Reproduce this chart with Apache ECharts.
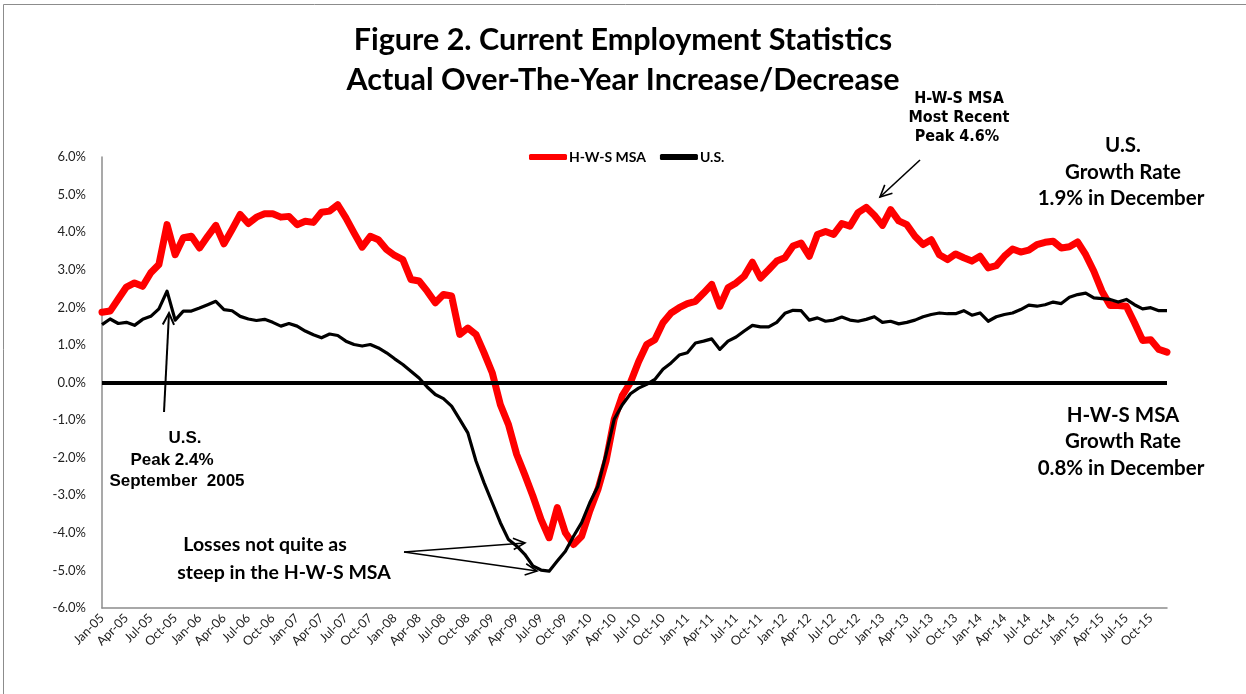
<!DOCTYPE html>
<html>
<head>
<meta charset="utf-8">
<script src="https://cdn.jsdelivr.net/npm/echarts@6/dist/echarts.min.js"></script>
<style>
  html, body { margin: 0; padding: 0; background: #fff; }
  #chart { width: 1246px; height: 694px; }
</style>
</head>
<body>
<div id="chart"></div>
<script>
const monthNames = ["Jan", "Feb", "Mar", "Apr", "May", "Jun", "Jul", "Aug", "Sep", "Oct", "Nov", "Dec"];
const years = ["05", "06", "07", "08", "09", "10", "11", "12", "13", "14", "15"];

// H-W-S MSA over-the-year change, Jan-05 .. Dec-15
const hwsMsa = [
  1.87, 1.90, 2.22, 2.54, 2.65, 2.56, 2.92, 3.14, 4.20, 3.40, 3.85, 3.89,
  3.58, 3.89, 4.18, 3.69, 4.07, 4.47, 4.23, 4.40, 4.49, 4.49, 4.40, 4.42,
  4.20, 4.29, 4.26, 4.53, 4.56, 4.73, 4.38, 3.98, 3.60, 3.89, 3.80, 3.54,
  3.38, 3.27, 2.74, 2.70, 2.43, 2.12, 2.34, 2.30, 1.28, 1.45, 1.28, 0.79,
  0.26, -0.59, -1.12, -1.91, -2.45, -3.02, -3.64, -4.13, -3.33, -4.00, -4.31, -4.09,
  -3.42, -2.85, -2.09, -0.98, -0.35, 0.00, 0.55, 1.01, 1.14, 1.59, 1.85, 1.99,
  2.10, 2.16, 2.38, 2.61, 2.03, 2.52, 2.65, 2.83, 3.20, 2.78, 3.00, 3.23,
  3.32, 3.63, 3.71, 3.36, 3.94, 4.02, 3.94, 4.23, 4.16, 4.52, 4.66, 4.45,
  4.18, 4.60, 4.30, 4.20, 3.89, 3.67, 3.80, 3.40, 3.27, 3.42, 3.32, 3.23,
  3.36, 3.05, 3.11, 3.36, 3.55, 3.47, 3.52, 3.67, 3.73, 3.76, 3.58, 3.61,
  3.74, 3.40, 2.96, 2.43, 2.05, 2.05, 2.03, 1.59, 1.12, 1.14, 0.88, 0.81
];

// U.S. over-the-year change, Jan-05 .. Dec-15
const usRate = [
  1.54, 1.69, 1.57, 1.60, 1.52, 1.68, 1.76, 1.96, 2.43, 1.66, 1.90, 1.90,
  1.98, 2.07, 2.16, 1.94, 1.91, 1.76, 1.69, 1.65, 1.68, 1.60, 1.50, 1.57,
  1.50, 1.37, 1.27, 1.19, 1.29, 1.25, 1.10, 1.01, 0.97, 1.01, 0.92, 0.79,
  0.63, 0.48, 0.30, 0.12, -0.12, -0.32, -0.43, -0.63, -0.98, -1.34, -2.09, -2.67,
  -3.20, -3.73, -4.18, -4.35, -4.57, -4.88, -4.99, -5.02, -4.75, -4.49, -4.09, -3.73,
  -3.20, -2.76, -1.91, -0.98, -0.59, -0.30, -0.15, -0.05, 0.08, 0.35, 0.52, 0.73,
  0.79, 1.05, 1.10, 1.16, 0.88, 1.10, 1.21, 1.37, 1.52, 1.48, 1.48, 1.60,
  1.84, 1.92, 1.91, 1.66, 1.72, 1.63, 1.66, 1.74, 1.66, 1.63, 1.68, 1.75,
  1.60, 1.63, 1.56, 1.60, 1.66, 1.75, 1.81, 1.85, 1.83, 1.83, 1.91, 1.79,
  1.85, 1.63, 1.75, 1.81, 1.85, 1.94, 2.06, 2.03, 2.07, 2.14, 2.10, 2.27,
  2.34, 2.38, 2.25, 2.23, 2.21, 2.14, 2.21, 2.07, 1.96, 1.99, 1.91, 1.91
];

const months = [];
years.forEach(y => monthNames.forEach(m => months.push(m + "-" + y)));

const calibri = "Lato, 'Open Sans', sans-serif";
const arial = "'Liberation Sans', Arial, sans-serif";
const arialNarrow = "'Liberation Sans Narrow', 'Arial Narrow', 'DejaVu Sans Condensed', sans-serif";

function textEl(str, x, y, size, font) {
  return {
    type: "text",
    silent: true,
    style: {
      text: str, x: x, y: y,
      align: "center", verticalAlign: "middle",
      fontSize: size, fontWeight: "bold", fontFamily: font, fill: "#000"
    }
  };
}

function arrow(x1, y1, x2, y2, width) {
  const ang = Math.atan2(y2 - y1, x2 - x1);
  const len = 13, spread = 0.45;
  const h1 = [x2 - len * Math.cos(ang - spread), y2 - len * Math.sin(ang - spread)];
  const h2 = [x2 - len * Math.cos(ang + spread), y2 - len * Math.sin(ang + spread)];
  const st = { stroke: "#000", lineWidth: width || 2, fill: null };
  return [
    { type: "line", silent: true, shape: { x1: x1, y1: y1, x2: x2, y2: y2 }, style: st },
    { type: "polyline", silent: true, shape: { points: [h1, [x2, y2], h2] }, style: st }
  ];
}

const chart = echarts.init(document.getElementById("chart"));

chart.setOption({
  animation: false,
  backgroundColor: "#fff",
  title: {
    text: "Figure 2. Current Employment Statistics\nActual Over-The-Year Increase/Decrease",
    left: "center",
    top: 15,
    textStyle: { fontFamily: calibri, fontWeight: "bold", fontSize: 30.5, lineHeight: 40, color: "#000" }
  },
  legend: {
    top: 145,
    left: 524,
    itemWidth: 38,
    itemHeight: 6,
    itemGap: 14,
    icon: "roundRect",
    textStyle: { fontFamily: calibri, fontWeight: "bold", fontSize: 14, color: "#000", padding: [0, 0, 0, -3] },
    data: ["H-W-S MSA", "U.S."]
  },
  grid: { left: 102, right: 79, top: 157, bottom: 86 },
  xAxis: {
    type: "category",
    data: months,
    boundaryGap: false,
    axisLine: { onZero: false, lineStyle: { color: "#8c8c8c", width: 1.5 } },
    axisTick: { show: false },
    axisLabel: {
      interval: 2,
      rotate: 45,
      margin: 8,
      fontSize: 12.5,
      fontFamily: calibri,
      color: "#222"
    },
    splitLine: { show: false }
  },
  yAxis: {
    type: "value",
    min: -6,
    max: 6,
    interval: 1,
    axisLine: { show: true, lineStyle: { color: "#8c8c8c", width: 1.5 } },
    axisTick: { show: false },
    axisLabel: {
      margin: 16,
      fontSize: 13,
      fontFamily: calibri,
      color: "#222",
      formatter: v => v.toFixed(1) + "%"
    },
    splitLine: { show: false }
  },
  series: [
    {
      name: "H-W-S MSA",
      type: "line",
      data: hwsMsa,
      symbol: "none",
      color: "#ff0000",
      lineStyle: { color: "#ff0000", width: 7, cap: "round", join: "round" },
      z: 3
    },
    {
      name: "U.S.",
      type: "line",
      data: usRate,
      symbol: "none",
      color: "#000",
      lineStyle: { color: "#000", width: 3.2, join: "round" },
      z: 4,
      markLine: {
        silent: true,
        symbol: "none",
        label: { show: false },
        lineStyle: { color: "#000", width: 4, type: "solid" },
        data: [{ yAxis: 0 }]
      }
    }
  ],
  graphic: [
    {
      type: "rect", silent: true,
      shape: { x: 3.5, y: 4.5, width: 1300, height: 800 },
      style: { fill: null, stroke: "#8c8c8c", lineWidth: 1 }
    },
    textEl("H-W-S MSA", 959, 99, 16, arialNarrow),
    textEl("Most Recent", 959, 118, 16, arialNarrow),
    textEl("Peak 4.6%", 957, 137, 16, arialNarrow),
    textEl("U.S.", 1123, 145, 20.5, calibri),
    textEl("Growth Rate", 1123, 172, 20.5, calibri),
    textEl("1.9% in December", 1121, 198, 20.5, calibri),
    textEl("H-W-S MSA", 1123, 415, 20.5, calibri),
    textEl("Growth Rate", 1123, 441, 20.5, calibri),
    textEl("0.8% in December", 1121, 468, 20.5, calibri),
    textEl("U.S.", 185, 438, 17, arial),
    textEl("Peak 2.4%", 172, 460, 17, arial),
    textEl("September  2005", 177, 481, 17, arial),
    textEl("Losses not quite as", 265, 545, 19.5, calibri),
    textEl("steep in the H-W-S MSA", 284, 573, 19.5, calibri),
    ...arrow(164, 412, 169, 313, 2),
    ...arrow(920, 160, 880, 197, 1.6),
    ...arrow(404, 552, 525, 543, 1.6),
    ...arrow(404, 552, 537, 571, 1.6)
  ]
});
</script>
</body>
</html>
